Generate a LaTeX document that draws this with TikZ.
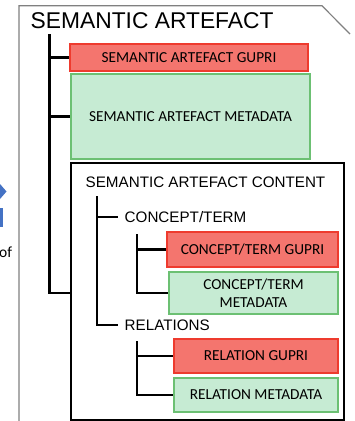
\documentclass[tikz,border=0pt]{standalone}
\usepackage{fontspec}
\setmainfont{Liberation Sans}
\newfontfamily\boxfont{Carlito}
\usetikzlibrary{positioning}

\definecolor{gupred}{HTML}{F4756E}
\definecolor{gupborder}{HTML}{EE3B2E}
\definecolor{mdgreen}{HTML}{C6EBD3}
\definecolor{mdborder}{HTML}{6CC073}
\definecolor{sideblue}{HTML}{4472C4}

\tikzset{
  gupri/.style = {draw = gupborder, fill = gupred, line width = 1.2pt, inner sep = 0pt,
                  font = \boxfont\fontsize{15.3}{18}\selectfont, align = center},
  mdbox/.style = {draw = mdborder, fill = mdgreen, line width = 1.2pt, inner sep = 0pt,
                  font = \boxfont\fontsize{15.3}{18}\selectfont, align = center},
  tree/.style  = {line width = 2.8pt},
  level/.style = {anchor = west, inner xsep = 6.5pt, inner ysep = 0pt,
                  font = \fontsize{15.2}{18}\selectfont}
}

\begin{document}
\begin{tikzpicture}[x = 1pt, y = -1pt]
\useasboundingbox (0, 0) rectangle (354, 421);
\begin{scope}
\clip (0, 0) rectangle (354, 421);

% bits of the slide on the left
\fill[sideblue] (-4, 184) -- (0, 184) -- (6.5, 191.5) -- (0, 199) -- (-4, 199) -- cycle;
\fill[sideblue] (-4, 208) rectangle (3, 227);
\node[anchor = west, inner sep = 0pt, font = \boxfont\fontsize{15.5}{18}\selectfont] (ofword) at (-1, 252) {of};

% document frame
\draw[gray, line width = 1.2pt] (19, 430) -- (19, 5.8) -- (322, 5.8) -- (350, 34);
\node[anchor = west, inner sep = 0pt, font = \fontsize{22.8}{26}\selectfont] (satitle) at (30.5, 21) {SEMANTIC ARTEFACT};

% artefact level
\node[gupri, minimum width = 238pt, minimum height = 27pt] (sagupri) at (189, 57.5) {SEMANTIC ARTEFACT GUPRI};
\node[mdbox, minimum width = 239pt, minimum height = 85pt] (samd) at (190.5, 116.5) {SEMANTIC ARTEFACT METADATA};

\draw[line width = 1.4pt] (71, 163) rectangle (344, 420);
\node[font = \fontsize{15.2}{18}\selectfont, inner sep = 0pt] (sacontent) at (205.5, 182) {SEMANTIC ARTEFACT CONTENT};
\coordinate (contleft) at (71, 293);

\coordinate (saroot) at (49.5, 34);
\draw[tree] (saroot) |- (sagupri.west);
\draw[tree] (saroot) |- (samd.west);
\draw[tree] (saroot) |- (contleft);

% content level
\node[level] (concept) at (118, 217) {CONCEPT/TERM};
\node[level] (relations) at (118, 325) {RELATIONS};
\coordinate (ctroot) at (97, 196);
\draw[tree] (ctroot) |- (concept.west);
\draw[tree] (ctroot) |- (relations.west);

\node[gupri, minimum width = 171pt, minimum height = 35pt] (ctgupri) at (252.5, 249.5) {CONCEPT/TERM GUPRI};
\node[mdbox, minimum width = 169pt, minimum height = 42pt] (ctmd) at (253.5, 293) {CONCEPT/TERM\\METADATA};
\coordinate (conceptroot) at (137, 234);
\draw[tree] (conceptroot) |- (ctgupri.west);
\draw[tree] (conceptroot) |- (ctmd.west);

\node[gupri, minimum width = 164pt, minimum height = 34pt] (relgupri) at (256, 356) {RELATION GUPRI};
\node[mdbox, minimum width = 164pt, minimum height = 34pt] (relmd) at (256, 395) {RELATION METADATA};
\coordinate (relroot) at (137, 341);
\draw[tree] (relroot) |- (relgupri.west);
\draw[tree] (relroot) |- (relmd.west);
\end{scope}
\end{tikzpicture}
\end{document}
